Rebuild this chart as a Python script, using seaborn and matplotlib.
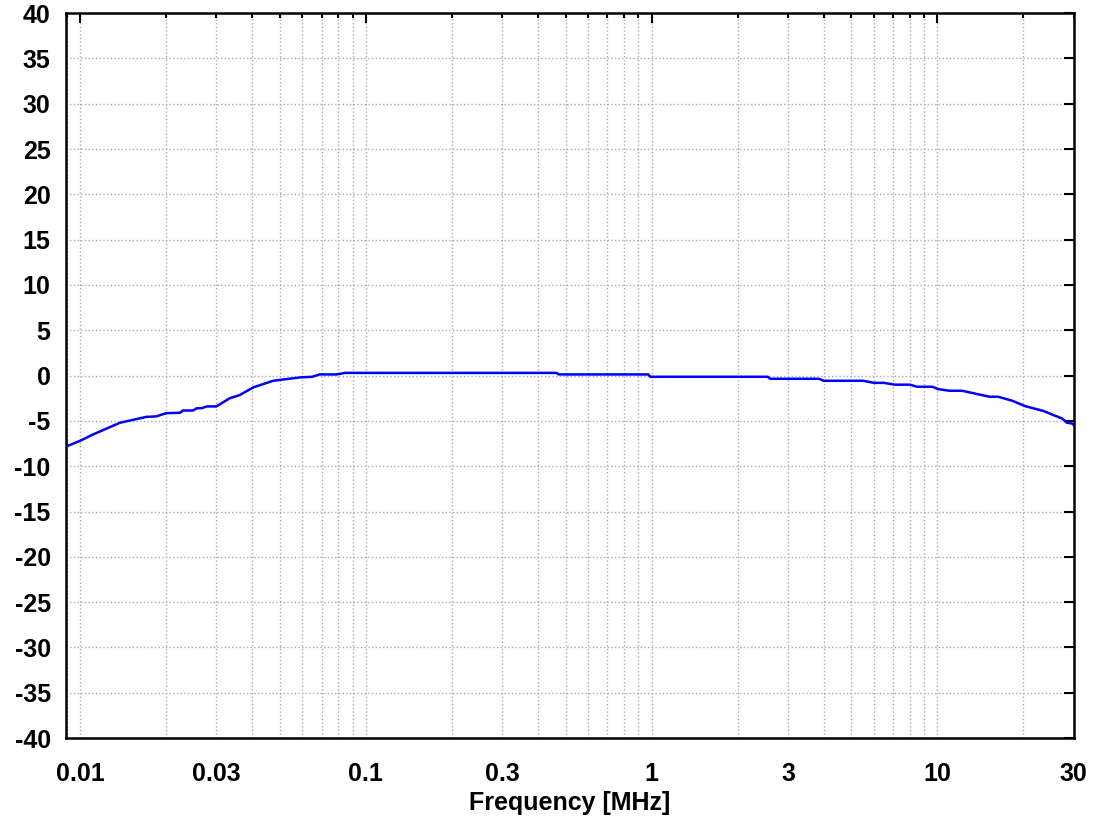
import numpy as np
import pandas as pd
import matplotlib
matplotlib.use("Agg")
import matplotlib.pyplot as plt
import matplotlib.ticker as mticker
import seaborn as sns

# response (frequency in MHz, gain in dB)
freq_mhz = [0.00898, 0.01, 0.0111, 0.0138, 0.0171, 0.0185, 0.02, 0.0224, 0.0229,
            0.0249, 0.0256, 0.0266, 0.0278, 0.03, 0.0334, 0.0362, 0.0404, 0.0474,
            0.0588, 0.065, 0.0689, 0.079, 0.0846, 0.464, 0.474, 0.974, 0.99,
            2.55, 2.6, 3.86, 4.0, 5.5, 6.0, 6.5, 7.1, 8.0, 8.5, 9.6, 10.1,
            11.0, 12.2, 15.2, 16.3, 18.3, 20.3, 23.5, 25.5, 27.3, 28.4, 29.6, 30.0]
gain_db = [-7.8, -7.2, -6.5, -5.2, -4.55, -4.5, -4.15, -4.1, -3.85,
           -3.85, -3.6, -3.6, -3.4, -3.4, -2.5, -2.15, -1.3, -0.57,
           -0.2, -0.13, 0.13, 0.13, 0.3, 0.3, 0.13, 0.13, -0.13,
           -0.13, -0.35, -0.35, -0.57, -0.57, -0.8, -0.8, -1.0, -1.0, -1.23, -1.23, -1.5,
           -1.67, -1.67, -2.33, -2.33, -2.78, -3.37, -3.9, -4.36, -4.73, -5.2, -5.28, -5.46]

x_major = [0.01, 0.1, 1, 10]
x_minor_labels = {0.03: "0.03", 0.3: "0.3", 3: "3", 30: "30"}
y_ticks = list(range(-40, 41, 5))

sns.set_style("white")
plt.rcParams['font.family'] = ['Liberation Sans', 'DejaVu Sans']
plt.rcParams['font.weight'] = 'bold'
plt.rcParams['axes.unicode_minus'] = False
plt.rcParams['text.color'] = 'black'
plt.rcParams['axes.labelcolor'] = 'black'

df = pd.DataFrame({"freq": freq_mhz, "gain": gain_db})

fig = plt.figure(figsize=(10.99, 8.21), dpi=100)
ax = fig.add_axes([0.060, 0.101, 0.917, 0.883])

sns.lineplot(data=df, x="freq", y="gain", color="#0000ff", linewidth=1.8, ax=ax)

ax.set_xscale("log")
ax.set_xlim(0.00893, 30)
ax.set_ylim(-40, 40)

ax.xaxis.set_major_locator(mticker.FixedLocator(x_major))
ax.xaxis.set_major_formatter(mticker.FixedFormatter(["0.01", "0.1", "1", "10"]))
ax.xaxis.set_minor_locator(mticker.LogLocator(base=10, subs=np.arange(2, 10), numticks=20))

def minor_fmt(v, pos):
    for k, s in x_minor_labels.items():
        if abs(v - k) / k < 1e-6:
            return s
    return ""

ax.xaxis.set_minor_formatter(mticker.FuncFormatter(minor_fmt))
ax.set_yticks(y_ticks)

ax.tick_params(axis="both", which="both", direction="in", top=True, right=True,
               labelsize=18, colors="black", width=1.5)
ax.tick_params(axis="x", which="major", length=7, pad=17)
ax.tick_params(axis="x", which="minor", length=3.5, pad=17)
ax.tick_params(axis="y", which="major", length=7, pad=11)

for lbl in ax.get_xticklabels(which="both") + ax.get_yticklabels():
    lbl.set_fontweight("bold")

ax.grid(True, which="both", axis="x", color="#ababab", linestyle=":", linewidth=1.0)
ax.grid(True, which="major", axis="y", color="#ababab", linestyle=":", linewidth=1.0)

for sp in ax.spines.values():
    sp.set_linewidth(1.8)
    sp.set_color("black")

ax.set_xlabel("Frequency [MHz]", fontsize=18, fontweight="bold", color="black", labelpad=4)
ax.set_ylabel("")

fig.savefig("out.png", dpi=100)
